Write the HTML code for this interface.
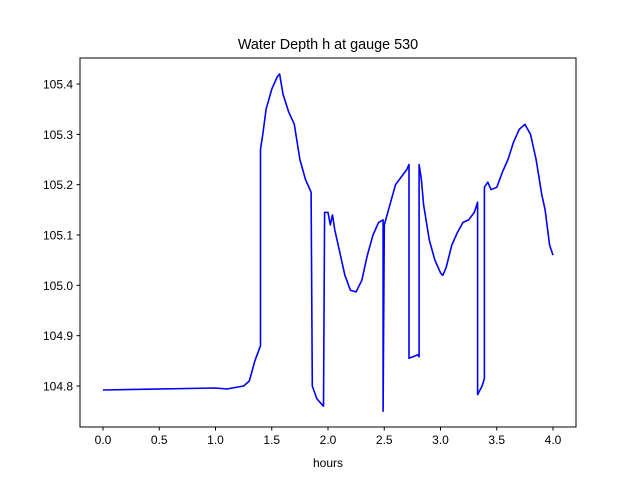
<!DOCTYPE html>
<html><head><meta charset="utf-8"><style>
body{margin:0;background:#fff;}
text{font-family:"Liberation Sans","DejaVu Sans",sans-serif;font-size:12px;fill:#000}
</style></head><body>
<svg id="s" width="640" height="480" xmlns="http://www.w3.org/2000/svg">
<rect width="640" height="480" fill="#fff"/>
<text x="328" y="49" text-anchor="middle" style="font-size:14.4px">Water Depth h at gauge 530</text>
<g id="ticks"></g>
<polyline id="line" fill="none" stroke="#0000ff" stroke-width="1.6" stroke-linejoin="round"/>
<rect x="80" y="58" width="496" height="369" fill="none" stroke="#000" stroke-width="1"/>
<text x="328" y="467" text-anchor="middle">hours</text>
</svg>
<script>
function X(h){return 103+h*112.5;}
function Y(v){return 386-(v-104.8)*503.3;}
var d=[[0,104.792],[1.0,104.796],[1.1,104.794],[1.25,104.8],[1.3,104.81],[1.35,104.85],[1.4,104.88],[1.4,105.27],[1.42,105.3],[1.45,105.35],[1.5,105.39],[1.55,105.415],[1.57,105.42],[1.6,105.38],[1.65,105.345],[1.7,105.32],[1.75,105.25],[1.8,105.21],[1.85,105.185],[1.86,104.8],[1.9,104.775],[1.95,104.762],[1.96,104.76],[1.97,105.145],[2.0,105.145],[2.02,105.12],[2.04,105.14],[2.06,105.11],[2.1,105.07],[2.15,105.02],[2.2,104.99],[2.25,104.987],[2.3,105.01],[2.35,105.06],[2.4,105.1],[2.45,105.125],[2.49,105.13],[2.49,104.75],[2.5,105.12],[2.55,105.16],[2.6,105.2],[2.65,105.215],[2.7,105.23],[2.72,105.24],[2.72,104.855],[2.8,104.862],[2.81,104.858],[2.81,105.24],[2.83,105.21],[2.85,105.16],[2.9,105.09],[2.95,105.05],[3.0,105.025],[3.02,105.02],[3.05,105.035],[3.1,105.08],[3.15,105.105],[3.2,105.125],[3.25,105.13],[3.3,105.145],[3.33,105.165],[3.33,104.783],[3.37,104.8],[3.39,104.815],[3.39,105.195],[3.42,105.205],[3.45,105.19],[3.5,105.195],[3.55,105.225],[3.6,105.25],[3.65,105.285],[3.7,105.31],[3.75,105.32],[3.8,105.3],[3.85,105.25],[3.9,105.18],[3.93,105.15],[3.97,105.08],[4.0,105.06]];
document.getElementById('line').setAttribute('points',d.map(function(p){return X(p[0]).toFixed(1)+','+Y(p[1]).toFixed(1)}).join(' '));
var g='';
for(var i=0;i<=8;i++){var h=i*0.5,x=X(h);g+='<line x1="'+x+'" y1="427" x2="'+x+'" y2="430.5" stroke="#000"/><text x="'+x+'" y="444" text-anchor="middle">'+h.toFixed(1)+'</text>';}
for(var j=0;j<=6;j++){var v=104.8+j*0.1,y=Y(v);g+='<line x1="76.5" y1="'+y+'" x2="80" y2="'+y+'" stroke="#000"/><text x="73" y="'+(y+4.5)+'" text-anchor="end">'+v.toFixed(1)+'</text>';}
document.getElementById('ticks').innerHTML=g;
</script>
</body></html>
